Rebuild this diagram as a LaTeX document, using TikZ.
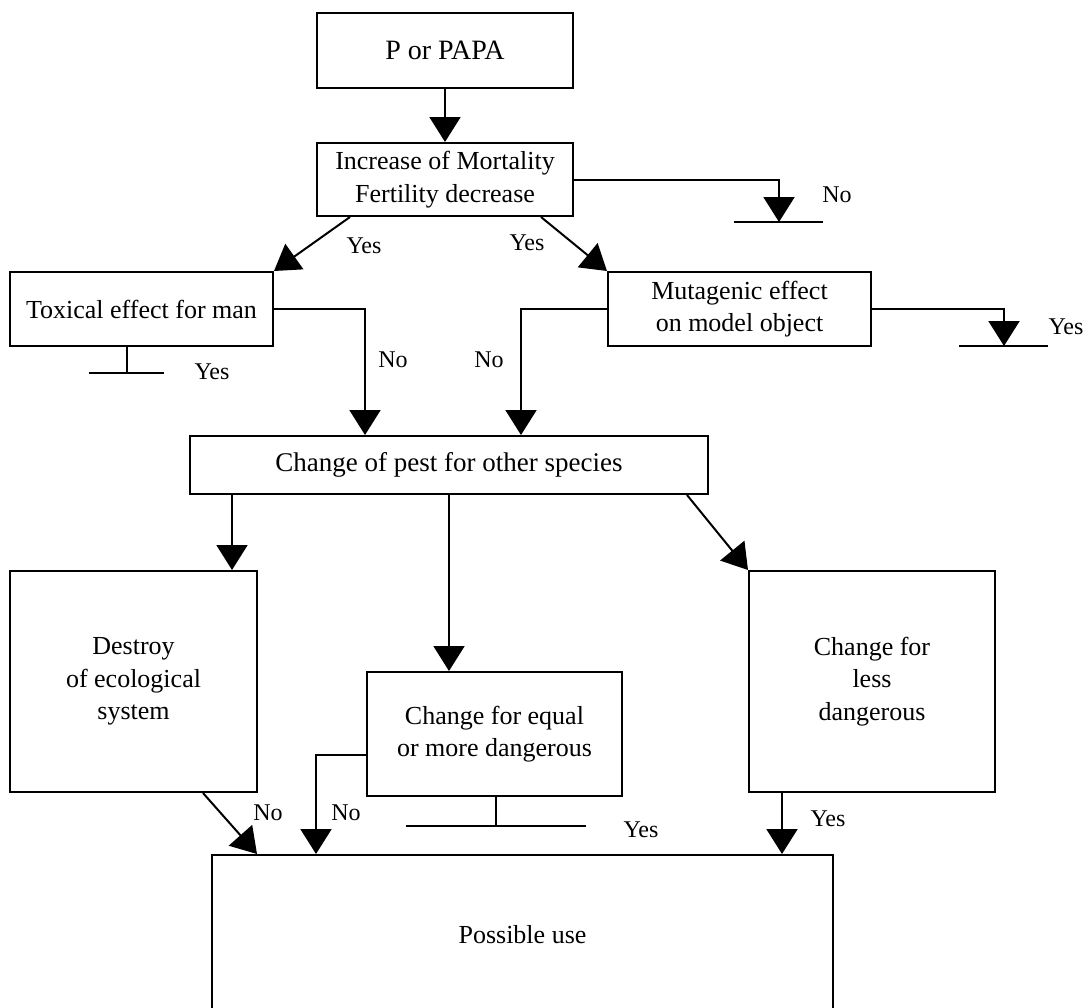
\documentclass[tikz,border=0pt]{standalone}
\usepackage{fontspec}
\setmainfont{Liberation Serif}
\usetikzlibrary{arrows.meta}
\begin{document}
\begin{tikzpicture}[x=1pt,y=-1pt,
 box/.style={draw, line width=2pt, inner sep=0pt, align=center, font=\fontsize{26}{32.5}\selectfont},
 lbl/.style={inner sep=0pt, font=\fontsize{24}{28}\selectfont},
 conn/.style={line width=2pt},
 arr/.style={conn, -{Triangle[length=25pt,width=31pt]}}]
\useasboundingbox[fill=white] (0,0) rectangle (1092,1007);

\node[box, minimum width=256pt, minimum height=75pt, font=\fontsize{28}{34}\selectfont] (P) at (445,50.5) {P or PAPA};
\node[box, minimum width=256pt, minimum height=73pt] (B) at (445,179.5) {Increase of Mortality\\Fertility decrease};
\node[box, minimum width=263pt, minimum height=74pt] (T) at (141.5,309) {Toxical effect for man};
\node[box, minimum width=263pt, minimum height=74pt] (M) at (739.5,309) {Mutagenic effect\\on model object};
\node[box, minimum width=518pt, minimum height=58pt, font=\fontsize{27}{32}\selectfont] (C) at (449,465) {Change of pest for other species};
\node[box, minimum width=247pt, minimum height=221pt] (D) at (133.5,681.5) {Destroy\\of ecological\\system};
\node[box, minimum width=255pt, minimum height=124pt] (E) at (494.5,734) {Change for equal\\or more dangerous};
\node[box, minimum width=246pt, minimum height=221pt] (R) at (872,681.5) {Change for\\less\\dangerous};
\node[box, minimum width=621pt, minimum height=160pt] (U) at (522.5,935) {Possible use};

% P -> B
\draw[arr] (P.south) -- (B.north);

% B -> No stub
\coordinate (n1) at (779,222);
\draw[arr] (B.east) -| (n1);
\draw[conn] ([xshift=-45pt]n1) -- ([xshift=44pt]n1);
\node[lbl] (lNo1) at (837,195) {No};

% B -> T, B -> M
\draw[arr] ([xshift=34pt]B.south west) -- (T.north east);
\draw[arr] ([xshift=-33pt]B.south east) -- (M.north west);
\node[lbl] (lYes1) at (364,246) {Yes};
\node[lbl] (lYes2) at (527,243) {Yes};

% T Yes stub
\coordinate (t1) at (127,373);
\draw[conn] (T.south -| t1) -- (t1);
\draw[conn] ([xshift=-38pt]t1) -- ([xshift=37pt]t1);
\node[lbl] (lYes3) at (212,372) {Yes};

% T No -> C
\draw[arr] (T.east) -| ([xshift=-84pt]C.north);
\node[lbl] (lNo2) at (393,360) {No};

% M No -> C
\draw[arr] (M.west) -| ([xshift=72pt]C.north);
\node[lbl] (lNo3) at (489,360) {No};

% M Yes stub
\coordinate (m1) at (1004,346);
\draw[arr] (M.east) -| (m1);
\draw[conn] ([xshift=-45pt]m1) -- ([xshift=44pt]m1);
\node[lbl] (lYes4) at (1066,327) {Yes};

% C -> D, E, R
\coordinate (c1) at ([xshift=43pt]C.south west);
\draw[arr] (c1) -- (c1 |- D.north);
\draw[arr] (C.south) -- (C.south |- E.north);
\draw[arr] ([xshift=-22pt]C.south east) -- (R.north west);

% D No -> U
\draw[arr] ([xshift=-55pt]D.south east) -- ([xshift=46pt]U.north west);
\node[lbl] (lNo4) at (268,813) {No};

% E No -> U
\coordinate (e1) at ([yshift=-21pt]E.west);
\draw[arr] (e1) -| ([xshift=105pt]U.north west);
\node[lbl] (lNo5) at (346,813) {No};

% E Yes stub
\coordinate (e2) at (496,826);
\draw[conn] (E.south -| e2) -- (e2);
\draw[conn] ([xshift=-90pt]e2) -- ([xshift=90pt]e2);
\node[lbl] (lYes5) at (641,830) {Yes};

% R Yes -> U
\coordinate (r1) at ([xshift=34pt]R.south west);
\draw[arr] (r1) -- (r1 |- U.north);
\node[lbl] (lYes6) at (828,819) {Yes};
\end{tikzpicture}
\end{document}
